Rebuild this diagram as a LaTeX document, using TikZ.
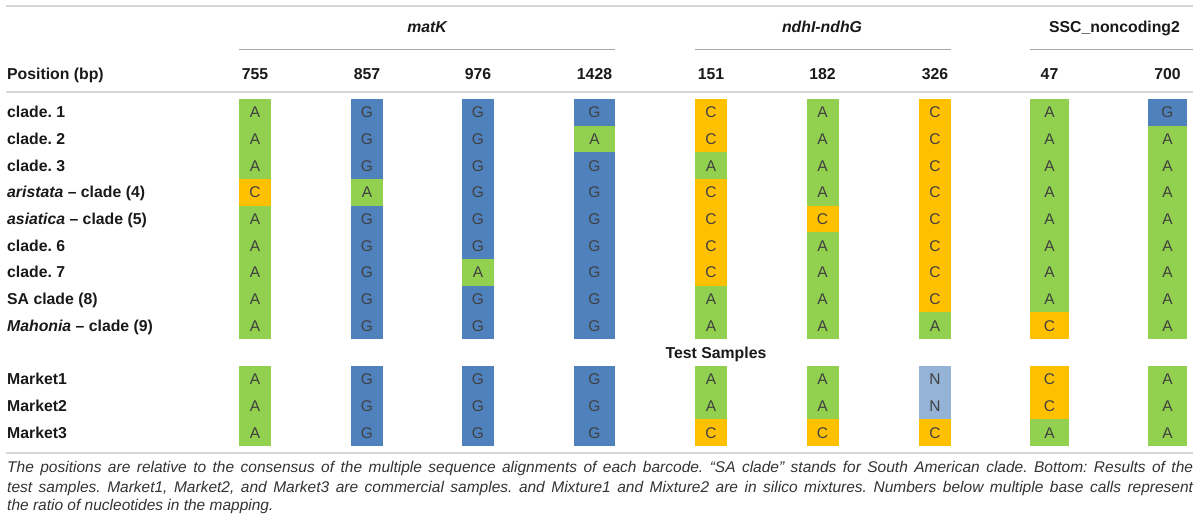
\documentclass[tikz,border=0pt]{standalone}
\usepackage{fontspec}
\setmainfont{Liberation Sans}
\usepackage{tikz}
\frenchspacing

\definecolor{baseA}{HTML}{92D050}
\definecolor{baseG}{HTML}{4F81BD}
\definecolor{baseC}{HTML}{FFC000}
\definecolor{baseN}{HTML}{95B3D7}
\definecolor{rulegray}{HTML}{D6D6D6}
\definecolor{grpgray}{HTML}{A8A8A8}

\begin{document}
\begin{tikzpicture}[x=1pt, y=-1pt,
    lab/.style={anchor=west, inner sep=0pt, text=black!90, font=\fontsize{15.8}{18}\selectfont\bfseries, text height=11pt, text depth=0pt},
    hd/.style={inner sep=0pt, text=black!90, font=\fontsize{15.8}{18}\selectfont\bfseries, text height=11pt, text depth=0pt},
    cell/.style={inner sep=0pt, minimum height=26.9pt, text=black!75, font=\fontsize{15.5}{18}\selectfont, text height=11pt, text depth=0pt},
    capline/.style={anchor=base west, inner sep=0pt, text=black!80, font=\fontsize{15.5}{18}\selectfont\itshape},
    tablerule/.style={rulegray, line width=1.4pt},
    grprule/.style={grpgray, line width=0.9pt}]
    \useasboundingbox (0,0) rectangle (1200,526);
    % column centres and box widths
    \def\colx{{255,367,478,594.5,711,822.5,935,1049.5,1167.5}}
    \def\colw{{32,32,32,41,32,32,32,39,39}}

    % Rules
    \draw[tablerule] (6,6) -- (1193,6);
    \draw[tablerule] (6,92) -- (1193,92);
    \draw[tablerule] (6,453) -- (1193,453);

    % Barcode groups
    \node (matk) at (427,27) [hd] {\itshape matK};
    \node (ndh) at (822,27) [hd] {\itshape ndhI-ndhG};
    \node (ssc) at (1114.5,27) [hd] {SSC\_noncoding2};
    \draw[grprule] (239,49) -- (615,49);
    \draw[grprule] (695,49) -- (951,49);
    \draw[grprule] (1030,49) -- (1193,49);

    % Positions
    \node (poslab) at (7,74) [lab] {Position (bp)};
    \foreach \p [count=\c] in {755,857,976,1428,151,182,326,47,700} {
        \pgfmathsetmacro\cx{\colx[\c-1]}
        \node (pos\c) at (\cx,74) [hd] {\p};
    }

    % Clades
    \foreach \r/\yy/\name/\bases in {
        1/112.3/{clade. 1}/{A,G,G,G,C,A,C,A,G},
        2/139.0/{clade. 2}/{A,G,G,A,C,A,C,A,A},
        3/165.7/{clade. 3}/{A,G,G,G,A,A,C,A,A},
        4/192.3/{{\itshape aristata} – clade (4)}/{C,A,G,G,C,A,C,A,A},
        5/219.0/{{\itshape asiatica} – clade (5)}/{A,G,G,G,C,C,C,A,A},
        6/245.7/{clade. 6}/{A,G,G,G,C,A,C,A,A},
        7/272.3/{clade. 7}/{A,G,A,G,C,A,C,A,A},
        8/299.0/{SA clade (8)}/{A,G,G,G,A,A,C,A,A},
        9/325.7/{{\itshape Mahonia} – clade (9)}/{A,G,G,G,A,A,A,C,A}} {
        \node (row\r) at (7,\yy) [lab] {\name};
        \foreach \b [count=\c] in \bases {
            \pgfmathsetmacro\cx{\colx[\c-1]}
            \pgfmathsetmacro\cw{\colw[\c-1]}
            \node (cell\r-\c) at (\cx,\yy) [cell, fill=base\b, minimum width=\cw pt] {\b};
        }
    }

    % Test samples
    \node (test) at (716,353) [hd] {Test Samples};
    \foreach \r/\yy/\bases in {
        1/379.3/{A,G,G,G,A,A,N,C,A},
        2/406.0/{A,G,G,G,A,A,N,C,A},
        3/432.7/{A,G,G,G,C,C,C,A,A}} {
        \node (mkt\r) at (7,\yy) [lab] {Market\r};
        \foreach \b [count=\c] in \bases {
            \pgfmathsetmacro\cx{\colx[\c-1]}
            \pgfmathsetmacro\cw{\colw[\c-1]}
            \node (mcell\r-\c) at (\cx,\yy) [cell, fill=base\b, minimum width=\cw pt] {\b};
        }
    }

    % Caption
    \node (cap1) at (7,473) [capline] {\makebox[1186pt][s]{The positions are relative to the consensus of the multiple sequence alignments of each barcode. “SA clade” stands for South American clade. Bottom: Results of the}};
    \node (cap2) at (7,492.5) [capline] {\makebox[1186pt][s]{test samples. Market1, Market2, and Market3 are commercial samples. and Mixture1 and Mixture2 are in silico mixtures. Numbers below multiple base calls represent}};
    \node (cap3) at (7,511) [capline] {the ratio of nucleotides in the mapping.};
\end{tikzpicture}
\end{document}
